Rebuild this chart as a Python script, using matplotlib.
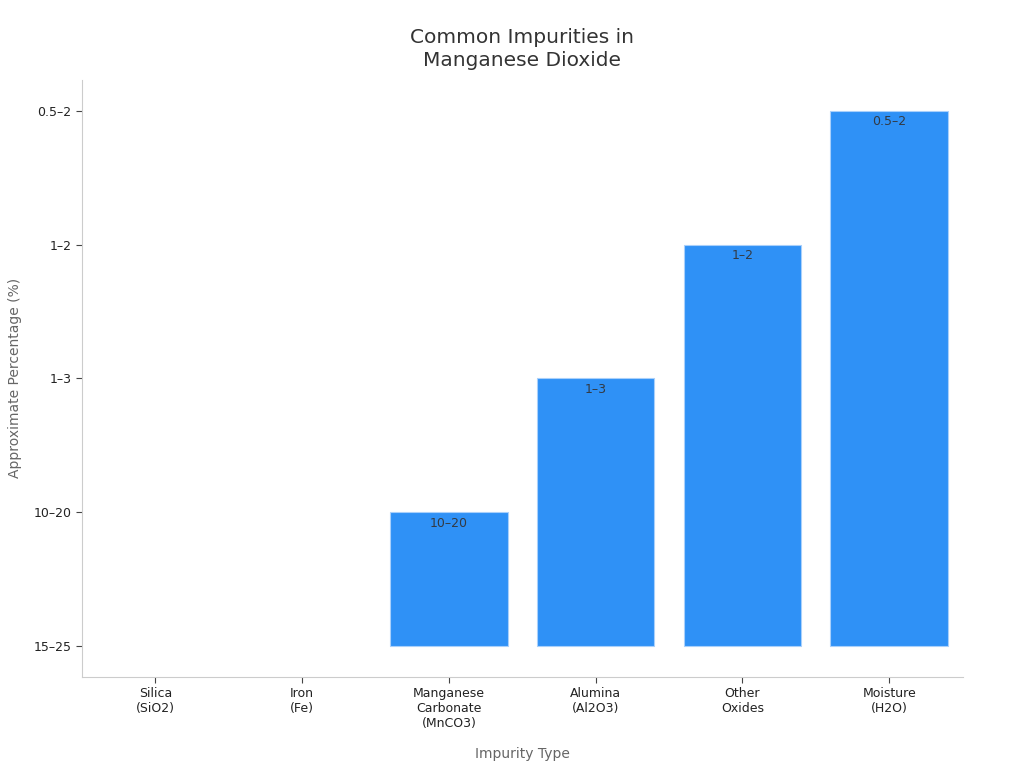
import matplotlib.pyplot as plt

categories = ['Silica\n(SiO2)', 'Iron\n(Fe)', 'Manganese\nCarbonate\n(MnCO3)',
              'Alumina\n(Al2O3)', 'Other\nOxides', 'Moisture\n(H2O)']
levels = ['15–25', '10–20', '1–3', '1–2', '0.5–2']
values = ['15–25', '15–25', '10–20', '1–3', '1–2', '0.5–2']

heights = [levels.index(v) for v in values]

fig = plt.figure(figsize=(10.24, 7.68), dpi=100)
ax = fig.add_axes([0.080, 0.1185, 0.860, 0.7775])

x = list(range(len(categories)))
bars = ax.bar(x, heights, width=0.8, color='#2f91f6', edgecolor='#a9d0fb', linewidth=0.8)

for b, v, h in zip(bars, values, heights):
    if h > 0:
        ax.text(b.get_x() + b.get_width() / 2, h - 0.035, v, ha='center', va='top',
                fontsize=9, color='#333a44')
    else:
        b.set_linewidth(0)

ax.set_xlim(-0.5, 5.5)
ax.set_ylim(-0.23, 4.23)
ax.set_xticks(x)
ax.set_xticklabels(categories, fontsize=9, color='#222222')
ax.set_yticks(range(len(levels)))
ax.set_yticklabels(levels, fontsize=9, color='#222222')

ax.set_xlabel('Impurity Type', fontsize=10, color='#666666', labelpad=12)
ax.set_ylabel('Approximate Percentage (%)', fontsize=10, color='#666666', labelpad=8)
ax.set_title('Common Impurities in\nManganese Dioxide', fontsize=14.5, color='#333333',
             pad=10, linespacing=1.25)

for s in ['top', 'right']:
    ax.spines[s].set_visible(False)
for s in ['left', 'bottom']:
    ax.spines[s].set_color('#cccccc')
ax.tick_params(color='#444444', length=4)

fig.savefig('out.png', dpi=100)
